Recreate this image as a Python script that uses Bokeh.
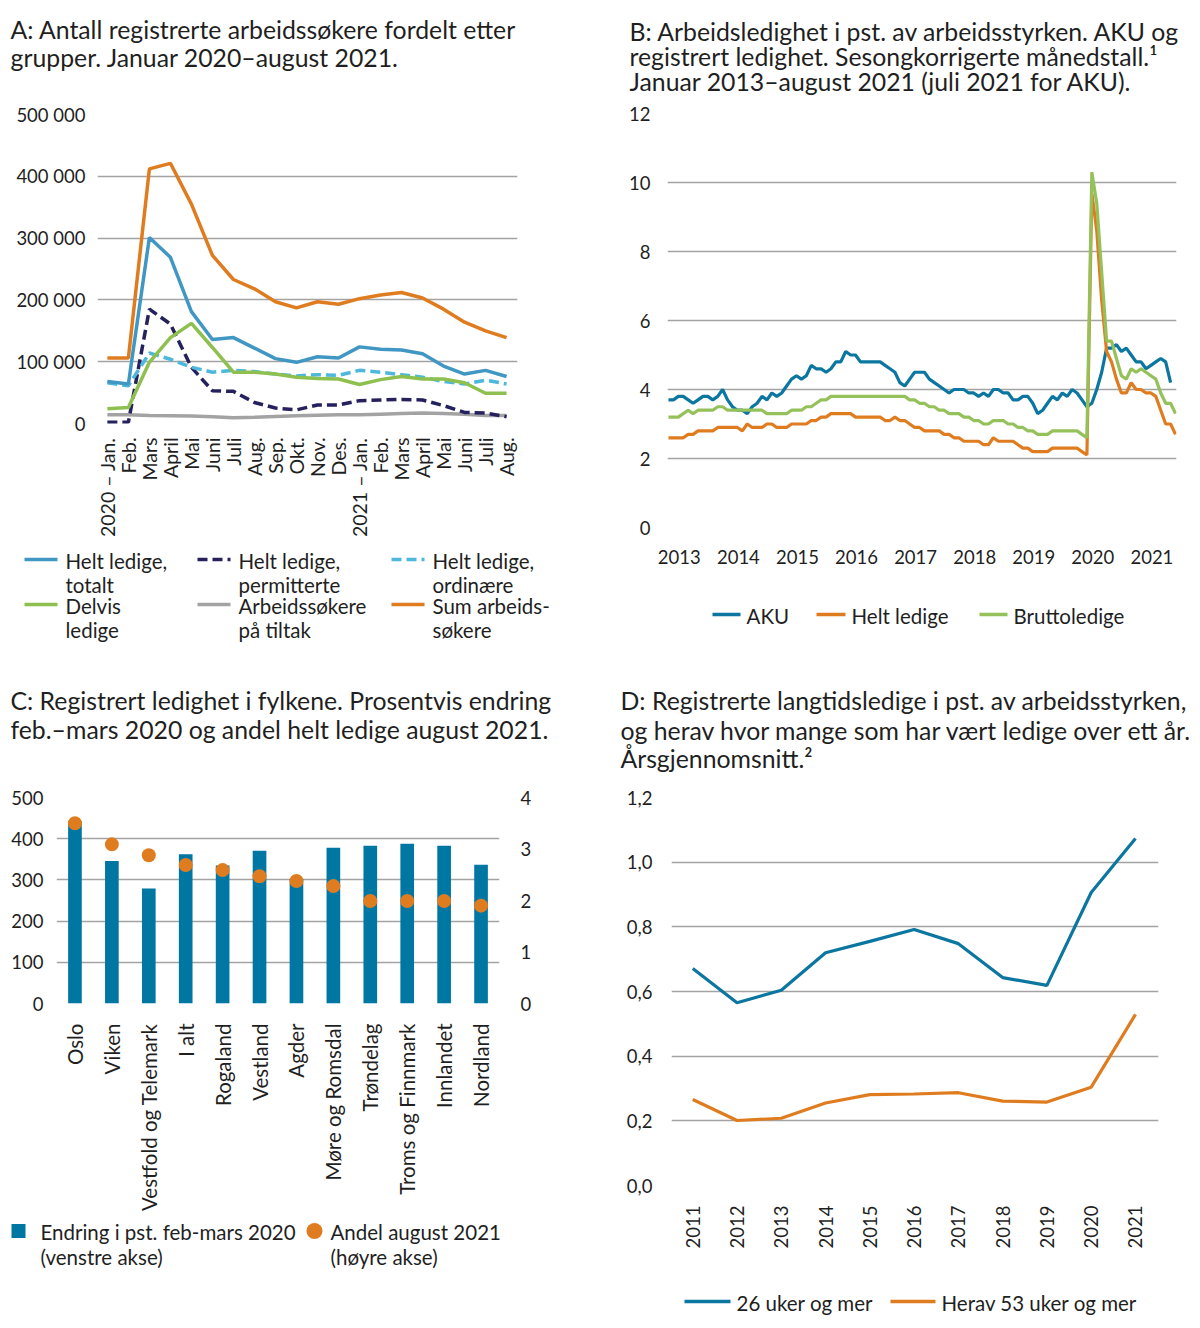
import math
from bokeh.plotting import figure
from bokeh.models import Range1d, FixedTicker, LinearAxis, FactorRange
from bokeh.layouts import column, row
from bokeh.embed import file_html
from bokeh.resources import INLINE
from bokeh.core.properties import value

FONT = "Lato"
TXT = "#1f1f1f"
GRID = "#a3a3a3"

# ---------------- Panel A data ----------------
months_a = ["2020 \u2013 Jan.", "Feb.", "Mars", "April", "Mai", "Juni", "Juli", "Aug.", "Sep.", "Okt.",
            "Nov.", "Des.", "2021 \u2013 Jan.", "Feb.", "Mars", "April", "Mai", "Juni", "Juli", "Aug."]
helt_totalt = [68000, 64000, 301000, 269000, 181000, 136000, 139000, 122000, 105000, 99000,
               108000, 106000, 124000, 120000, 119000, 113000, 93000, 80000, 86000, 76000]
helt_perm = [2000, 2000, 185000, 161000, 91000, 53000, 52000, 34000, 25000, 22000,
             30000, 30000, 37000, 38000, 39000, 38000, 29000, 18000, 17000, 11000]
helt_ord = [66000, 61000, 114000, 104000, 91000, 83000, 86000, 84000, 80000, 77000,
            79000, 78000, 86000, 83000, 79000, 75000, 68000, 64000, 70000, 64000]
delvis = [24000, 26000, 99000, 139000, 162000, 123000, 83000, 83000, 80000, 75000,
          73000, 72000, 63000, 71000, 76000, 72000, 72000, 66000, 49000, 49000]
tiltak = [14000, 14000, 13000, 12500, 12000, 11000, 9500, 10000, 11500, 12500,
          13500, 14000, 14000, 15000, 16000, 17000, 16000, 15000, 13000, 13000]
sum_arb = [106000, 106000, 412000, 421000, 355000, 272000, 233000, 218000, 197000, 187000,
           197000, 193000, 202000, 208000, 212000, 203000, 185000, 164000, 150000, 139000]
ya_ticks = [0, 100000, 200000, 300000, 400000, 500000]
ya_labels = ["0", "100 000", "200 000", "300 000", "400 000", "500 000"]

# ---------------- Panel B data (monthly, Jan 2013 -) ----------------
aku = [3.7, 3.7, 3.8, 3.8, 3.7, 3.6, 3.7, 3.8, 3.8, 3.7,
       3.8, 4.0, 3.7, 3.5, 3.4, 3.4, 3.3, 3.5, 3.6, 3.8,
       3.7, 3.9, 3.8, 3.9, 4.1, 4.3, 4.4, 4.3, 4.4, 4.7,
       4.6, 4.6, 4.5, 4.6, 4.8, 4.8, 5.1, 5.0, 5.0, 4.8,
       4.8, 4.8, 4.8, 4.8, 4.7, 4.6, 4.5, 4.2, 4.1, 4.3,
       4.5, 4.5, 4.5, 4.3, 4.2, 4.1, 4.0, 3.9, 4.0, 4.0,
       4.0, 3.9, 3.9, 3.8, 3.9, 3.8, 4.0, 4.0, 3.9, 3.9,
       3.7, 3.7, 3.8, 3.8, 3.6, 3.3, 3.4, 3.6, 3.8, 3.7,
       3.9, 3.8, 4.0, 3.9, 3.7, 3.5, 3.6, 4.0, 4.5, 5.2,
       5.2, 5.3, 5.1, 5.2, 5.0, 4.8, 4.8, 4.6, 4.7, 4.8,
       4.9, 4.8, 4.2]
helt_ledige_b = [2.6, 2.6, 2.6, 2.6, 2.7, 2.7, 2.8, 2.8, 2.8, 2.8,
                 2.9, 2.9, 2.9, 2.9, 2.9, 2.8, 3.0, 2.9, 2.9, 2.9,
                 3.0, 3.0, 2.9, 2.9, 2.9, 3.0, 3.0, 3.0, 3.0, 3.1,
                 3.1, 3.2, 3.2, 3.3, 3.3, 3.3, 3.3, 3.3, 3.2, 3.2,
                 3.2, 3.2, 3.2, 3.2, 3.1, 3.1, 3.2, 3.1, 3.1, 3.0,
                 2.9, 2.9, 2.8, 2.8, 2.8, 2.8, 2.7, 2.7, 2.6, 2.6,
                 2.5, 2.5, 2.5, 2.5, 2.4, 2.4, 2.6, 2.5, 2.5, 2.5,
                 2.5, 2.4, 2.3, 2.3, 2.2, 2.2, 2.2, 2.2, 2.3, 2.3,
                 2.3, 2.3, 2.3, 2.3, 2.2, 2.1, 9.7, 8.6, 6.6, 5.1,
                 4.8, 4.3, 3.9, 3.9, 4.2, 4.0, 4.0, 3.9, 3.9, 3.8,
                 3.4, 3.0, 3.0, 2.7]
brutto = [3.2, 3.2, 3.2, 3.3, 3.4, 3.3, 3.4, 3.4, 3.4, 3.4,
          3.5, 3.5, 3.4, 3.4, 3.4, 3.4, 3.4, 3.4, 3.4, 3.4,
          3.3, 3.3, 3.3, 3.3, 3.3, 3.4, 3.4, 3.4, 3.5, 3.5,
          3.6, 3.7, 3.7, 3.8, 3.8, 3.8, 3.8, 3.8, 3.8, 3.8,
          3.8, 3.8, 3.8, 3.8, 3.8, 3.8, 3.8, 3.8, 3.8, 3.7,
          3.7, 3.6, 3.6, 3.5, 3.5, 3.4, 3.4, 3.3, 3.3, 3.3,
          3.2, 3.2, 3.1, 3.1, 3.0, 3.0, 3.1, 3.1, 3.1, 3.0,
          3.0, 2.9, 2.9, 2.8, 2.8, 2.7, 2.7, 2.7, 2.8, 2.8,
          2.8, 2.8, 2.8, 2.8, 2.7, 2.6, 10.3, 9.4, 7.4, 5.4,
          5.4, 4.9, 4.4, 4.3, 4.6, 4.5, 4.6, 4.5, 4.4, 4.3,
          3.9, 3.6, 3.6, 3.3]
years_b = ["2013", "2014", "2015", "2016", "2017", "2018", "2019", "2020", "2021"]
yb_ticks = [0, 2, 4, 6, 8, 10, 12]

# ---------------- Panel C data ----------------
fylker = ["Oslo", "Viken", "Vestfold og Telemark", "I alt", "Rogaland", "Vestland", "Agder",
          "M\u00f8re og Romsdal", "Tr\u00f8ndelag", "Troms og Finnmark", "Innlandet", "Nordland"]
endring = [443, 346, 279, 362, 335, 371, 303, 378, 383, 388, 383, 337]
andel = [3.50, 3.09, 2.88, 2.69, 2.59, 2.47, 2.38, 2.28, 1.99, 1.99, 1.99, 1.90]
yc_left = [0, 100, 200, 300, 400, 500]
yc_right = [0, 1, 2, 3, 4]

# ---------------- Panel D data ----------------
years_d = [2011, 2012, 2013, 2014, 2015, 2016, 2017, 2018, 2019, 2020, 2021]
uker26 = [0.671, 0.565, 0.604, 0.720, 0.755, 0.792, 0.748, 0.643, 0.619, 0.906, 1.073]
uker53 = [0.266, 0.201, 0.208, 0.255, 0.281, 0.283, 0.287, 0.261, 0.258, 0.304, 0.529]
yd_ticks = [0.0, 0.2, 0.4, 0.6, 0.8, 1.0, 1.2]
yd_labels = ["0,0", "0,2", "0,4", "0,6", "0,8", "1,0", "1,2"]

# ---------------- Texts ----------------
title_a = ["A: Antall registrerte arbeidss\u00f8kere fordelt etter",
           "grupper. Januar 2020\u2013august 2021."]
title_b = ["B: Arbeidsledighet i pst. av arbeidsstyrken. AKU og",
           "registrert ledighet. Sesongkorrigerte m\u00e5nedstall.\u00b9",
           "Januar 2013\u2013august 2021 (juli 2021 for AKU)."]
title_c = ["C: Registrert ledighet i fylkene.  Prosentvis endring",
           "feb.\u2013mars 2020 og andel helt ledige august 2021."]
title_d = ["D: Registrerte langtidsledige i pst. av arbeidsstyrken,",
           "og herav hvor mange som har v\u00e6rt ledige over ett \u00e5r.",
           "\u00c5rsgjennomsnitt.\u00b2"]
leg_a = [("Helt ledige,", "totalt"), ("Helt ledige,", "permitterte"), ("Helt ledige,", "ordin\u00e6re"),
         ("Delvis", "ledige"), ("Arbeidss\u00f8kere", "p\u00e5 tiltak"), ("Sum arbeids-", "s\u00f8kere")]
leg_b = ["AKU", "Helt ledige", "Bruttoledige"]
leg_c = [("Endring i pst. feb-mars 2020", "(venstre akse)"), ("Andel august 2021", "(h\u00f8yre akse)")]
leg_d = ["26 uker og mer", "Herav 53 uker og mer"]

# ---------------- Styles ----------------
C_TOT = "#4197c4"
C_PERM = "#25215e"
C_ORD = "#4db8dc"
C_DELV = "#8dc04f"
C_TILT = "#a3a3a3"
C_SUM = "#e07c20"
C_BLUE = "#0b76a0"
C_GREEN = "#95c15b"
C_BAR = "#0077a3"
LW = 3.5
DASH = "10 5"
TITLE_FS = "24.8px"
LEG_FS = "20.5px"


def canvas(w, h):
    f = figure(width=w, height=h, x_range=Range1d(0, w), y_range=Range1d(h, 0),
               x_axis_type=None, y_axis_type=None, toolbar_location=None,
               output_backend="svg", min_border=0, outline_line_color=None,
               frame_align=False)
    return f


def put_text(f, xs, ys, texts, size="18px"):
    f.text(x=xs, y=ys, text=texts, text_font=value(FONT), text_font_size=value(size),
           text_color=TXT, text_baseline="middle", text_align="left")


def style_axes(p, size="18.5px"):
    for ax in p.axis:
        ax.axis_line_color = None
        ax.major_tick_line_color = None
        ax.minor_tick_line_color = None
        ax.major_tick_in = 0
        ax.major_tick_out = 0
        ax.major_label_text_font = FONT
        ax.major_label_text_font_size = size
        ax.major_label_text_color = TXT
    p.xgrid.visible = False
    p.ygrid.grid_line_color = GRID
    p.ygrid.grid_line_width = 1.3


# ================= Panel A =================
tA = canvas(600, 92)
put_text(tA, [2, 2], [21, 49], title_a, TITLE_FS)

xa = list(range(len(months_a)))
pA = figure(width=600, height=445, x_range=Range1d(-0.47, 19.52), y_range=Range1d(0, 500000),
            toolbar_location=None, output_backend="svg", outline_line_color=None, frame_align=False,
            min_border_left=89, min_border_right=91, min_border_top=14, min_border_bottom=122)
pA.line(xa, tiltak, line_color=C_TILT, line_width=LW)
pA.line(xa, helt_perm, line_color=C_PERM, line_width=LW, line_dash=DASH)
pA.line(xa, helt_ord, line_color=C_ORD, line_width=LW, line_dash=DASH)
pA.line(xa, delvis, line_color=C_DELV, line_width=LW)
pA.line(xa, helt_totalt, line_color=C_TOT, line_width=LW)
pA.line(xa, sum_arb, line_color=C_SUM, line_width=LW)
pA.xaxis.ticker = FixedTicker(ticks=xa)
pA.xaxis.major_label_overrides = {i: m for i, m in zip(xa, months_a)}
pA.xaxis.major_label_orientation = math.pi / 2
pA.yaxis.ticker = FixedTicker(ticks=ya_ticks)
pA.yaxis.major_label_overrides = {t: l for t, l in zip(ya_ticks, ya_labels)}
style_axes(pA)
pA.xaxis.major_label_text_font_size = "19.5px"
pA.xaxis.major_label_standoff = 14
pA.yaxis.major_label_standoff = 12

lA = canvas(600, 115)
cols_x = [16, 189, 383]
rows_y = [14, 59]
styles_a = [(C_TOT, None), (C_PERM, DASH), (C_ORD, DASH), (C_DELV, None), (C_TILT, None), (C_SUM, None)]
for i, ((l1, l2), (col, dash)) in enumerate(zip(leg_a, styles_a)):
    cx = cols_x[i % 3]
    ry = rows_y[i // 3]
    kw = dict(line_color=col, line_width=LW)
    if dash:
        kw["line_dash"] = dash
    lA.segment(x0=[cx], y0=[ry], x1=[cx + 33], y1=[ry], **kw)
    put_text(lA, [cx + 41, cx + 41], [ry + 1, ry + 25], [l1, l2], LEG_FS)

colA = column(tA, pA, lA)

# ================= Panel B =================
tB = canvas(584, 92)
put_text(tB, [21, 21, 21], [23, 48, 73], title_b, TITLE_FS)

xb = list(range(len(brutto)))
pB = figure(width=584, height=490, x_range=Range1d(-0.2, 103.2), y_range=Range1d(0, 12),
            toolbar_location=None, output_backend="svg", outline_line_color=None, frame_align=False,
            min_border_left=59, min_border_right=16, min_border_top=13, min_border_bottom=63)
pB.line(xb[:len(aku)], aku, line_color=C_BLUE, line_width=3.2)
pB.line(xb, helt_ledige_b, line_color=C_SUM, line_width=3.2)
pB.line(xb, brutto, line_color=C_GREEN, line_width=3.2)
yr_pos = [12 * k + 2.2 for k in range(len(years_b))]
pB.xaxis.ticker = FixedTicker(ticks=yr_pos)
pB.xaxis.major_label_overrides = {p: y for p, y in zip(yr_pos, years_b)}
pB.yaxis.ticker = FixedTicker(ticks=yb_ticks)
style_axes(pB)
pB.xaxis.major_label_standoff = 22
pB.yaxis.major_label_standoff = 17

lB = canvas(584, 70)
seg_b = [(104, 132), (208, 237), (371, 399)]
cols_b = [C_BLUE, C_SUM, C_GREEN]
for (x0, x1), col, lab in zip(seg_b, cols_b, leg_b):
    lB.segment(x0=[x0], y0=[24], x1=[x1], y1=[24], line_color=col, line_width=LW)
    put_text(lB, [x1 + 6], [25], [lab], LEG_FS)

colB = column(tB, pB, lB)

# ================= Panel C =================
tC = canvas(600, 120)
put_text(tC, [2, 2], [40, 69], title_c, TITLE_FS)

pC = figure(width=600, height=435, x_range=FactorRange(*fylker), y_range=Range1d(0, 500),
            toolbar_location=None, output_backend="svg", outline_line_color=None, frame_align=False,
            min_border_left=46, min_border_right=109, min_border_top=17, min_border_bottom=212)
pC.extra_y_ranges = {"r": Range1d(0, 4)}
pC.vbar(x=fylker, top=endring, width=0.37, fill_color=C_BAR, line_color=None)
pC.scatter(x=fylker, y=andel, y_range_name="r", size=14, fill_color=C_SUM, line_color=None)
raxis = LinearAxis(y_range_name="r", ticker=FixedTicker(ticks=yc_right))
pC.add_layout(raxis, "right")
pC.yaxis[0].ticker = FixedTicker(ticks=yc_left)
pC.xaxis.major_label_orientation = math.pi / 2
style_axes(pC)
pC.xaxis.major_label_text_font_size = "20.5px"
pC.xaxis.major_label_standoff = 20
pC.yaxis[0].major_label_standoff = 13
raxis.major_label_standoff = 21

lC = canvas(600, 105)
lC.scatter(x=[10], y=[15.5], size=14, marker="square", fill_color=C_BAR, line_color=None)
lC.scatter(x=[306], y=[15.5], size=16, fill_color=C_SUM, line_color=None)
put_text(lC, [32, 32], [16, 41], list(leg_c[0]), LEG_FS)
put_text(lC, [322, 322], [16, 41], list(leg_c[1]), LEG_FS)

colC = column(tC, pC, lC)

# ================= Panel D =================
tD = canvas(584, 125)
put_text(tD, [12, 12, 12], [40, 70, 98], title_d, TITLE_FS)

pD = figure(width=584, height=485, x_range=Range1d(2010.52, 2021.52), y_range=Range1d(0, 1.2),
            toolbar_location=None, output_backend="svg", outline_line_color=None, frame_align=False,
            min_border_left=63, min_border_right=34, min_border_top=12, min_border_bottom=85)
pD.line(years_d, uker26, line_color=C_BLUE, line_width=3.2)
pD.line(years_d, uker53, line_color=C_SUM, line_width=3.2)
pD.xaxis.ticker = FixedTicker(ticks=years_d)
pD.xaxis.major_label_orientation = math.pi / 2
pD.yaxis.ticker = FixedTicker(ticks=yd_ticks)
pD.yaxis.major_label_overrides = {t: l for t, l in zip(yd_ticks, yd_labels)}
style_axes(pD)
pD.xaxis.major_label_standoff = 20
pD.yaxis.major_label_standoff = 19

lD = canvas(584, 50)
seg_d = [(76, 122), (282, 327)]
for (x0, x1), col, lab in zip(seg_d, [C_BLUE, C_SUM], leg_d):
    lD.segment(x0=[x0], y0=[31], x1=[x1], y1=[31], line_color=col, line_width=LW)
    put_text(lD, [x1 + 6], [32], [lab], LEG_FS)

colD = column(tD, pD, lD)

layout = column(row(colA, colB), row(colC, colD), margin=(8, 0, 0, 8))
open("out.html", "w").write(file_html(layout, INLINE))
